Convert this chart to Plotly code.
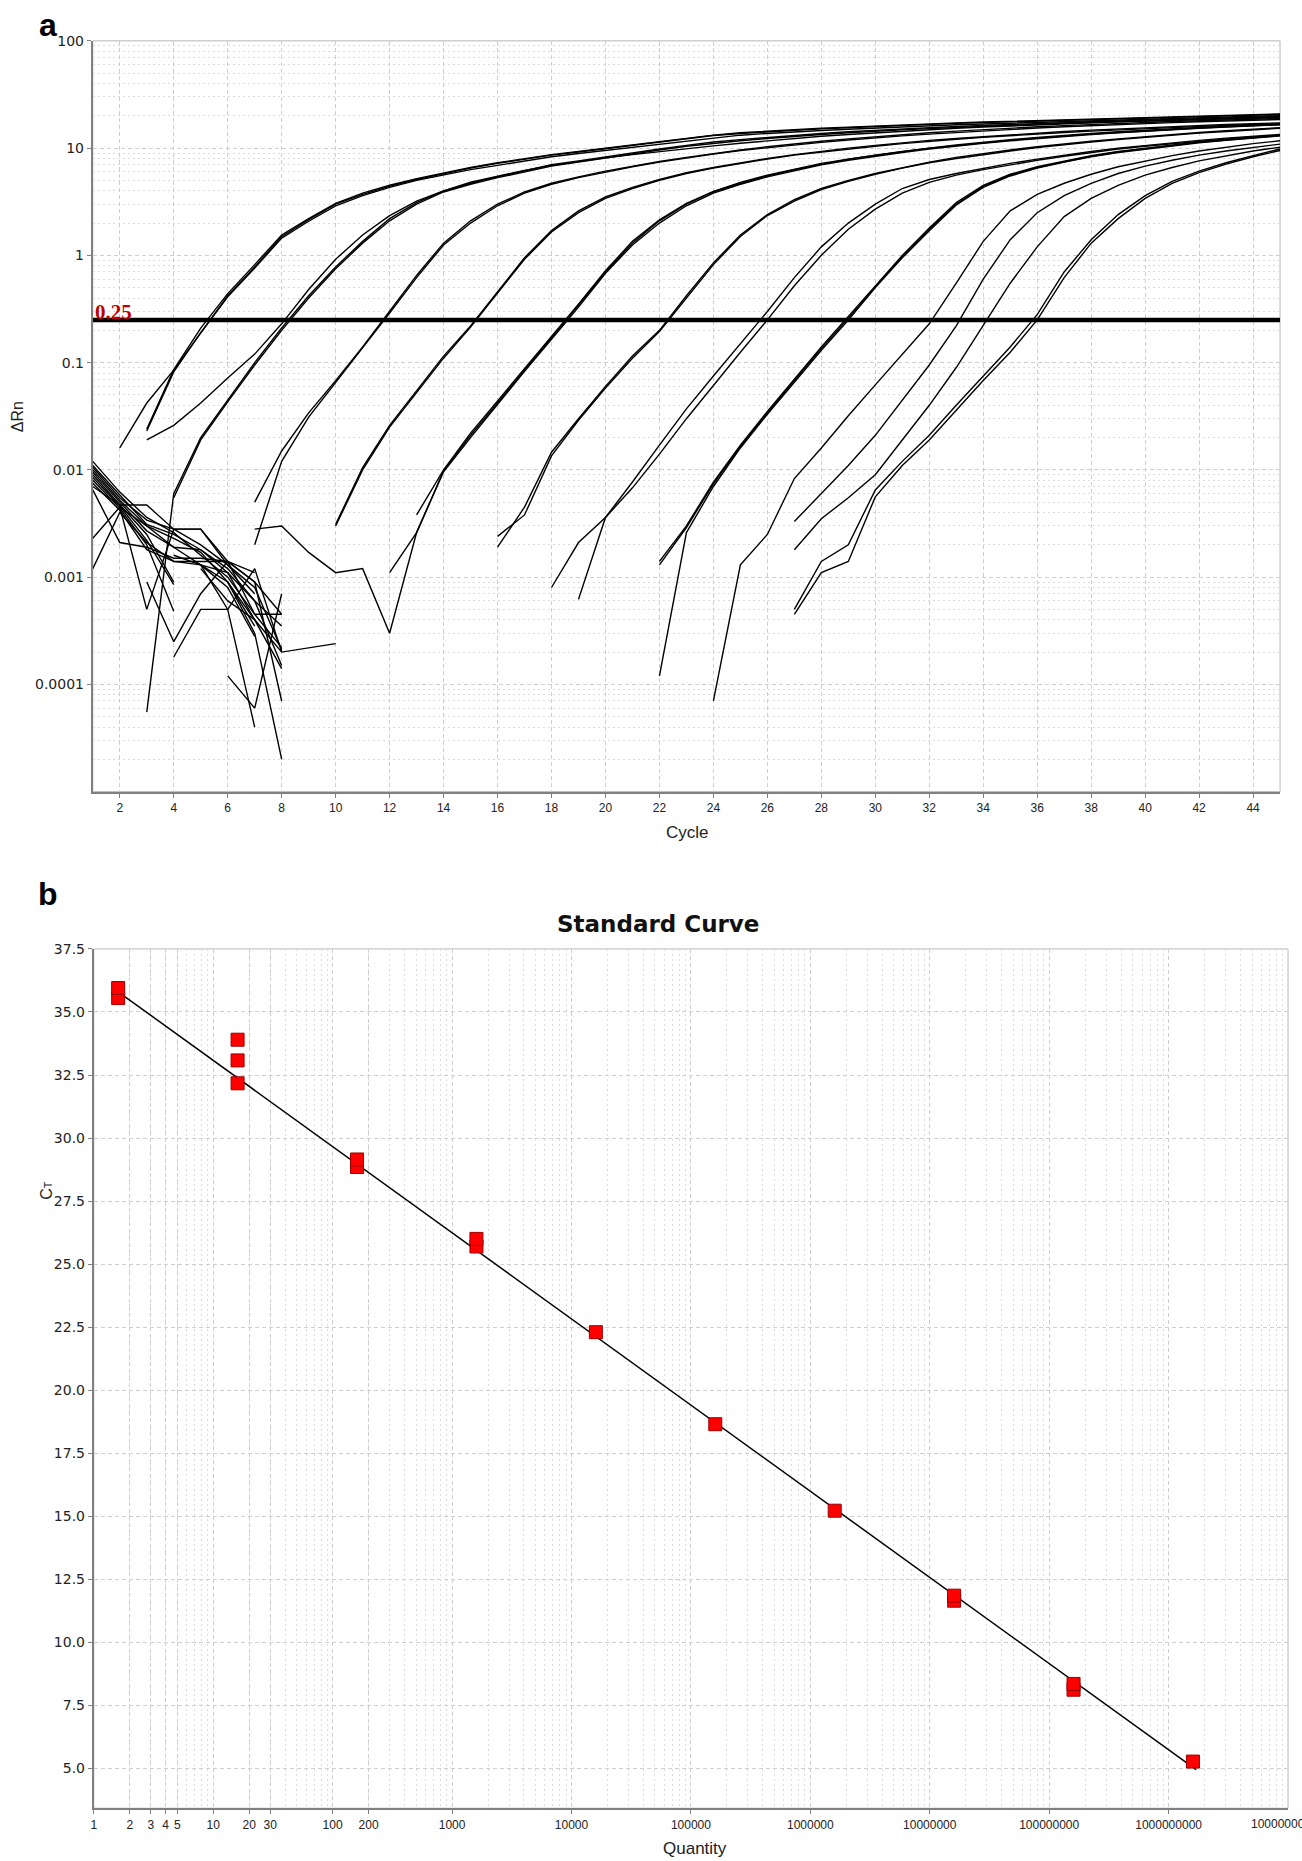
import plotly.graph_objects as go

W, H = 1302, 1861

# ---------------- Panel a : amplification plot ----------------
cycle_tickvals = list(range(2, 45, 2))
drn_tickvals = [0.0001, 0.001, 0.01, 0.1, 1, 10, 100]
drn_ticktext = ["0.0001", "0.001", "0.01", "0.1", "1", "10", "100"]
threshold = 0.25

# amplification curves: first cycle, then dRn for consecutive cycles
A1_start, A1 = 2, [0.016, 0.042, 0.085, 0.19, 0.42, 0.78, 1.5, 2.15, 3.0, 3.7, 4.4, 5.1, 5.8, 6.5, 7.2, 7.9, 8.6, 9.2, 9.9, 10.6, 11.4, 12.3, 13.1, 13.7, 14.2, 14.7, 15.1, 15.5, 15.9, 16.3, 16.7, 17.0, 17.3, 17.6, 17.9, 18.2, 18.5, 18.8, 19.1, 19.4, 19.7, 20.0, 20.3, 20.6]
A2_start, A2 = 3, [0.024, 0.086, 0.21, 0.44, 0.82, 1.55, 2.2, 3.05, 3.8, 4.5, 5.2, 5.9, 6.6, 7.3, 8.0, 8.7, 9.3, 10.0, 10.7, 11.5, 12.4, 13.2, 13.9, 14.4, 14.9, 15.3, 15.7, 16.1, 16.5, 16.9, 17.2, 17.5, 17.8, 18.1, 18.4, 18.7, 19.0, 19.3, 19.6, 19.9, 20.2, 20.5, 20.8]
A3_start, A3 = 3, [0.023, 0.082, 0.19, 0.41, 0.76, 1.45, 2.08, 2.9, 3.6, 4.3, 5.0, 5.6, 6.3, 6.9, 7.6, 8.3, 8.9, 9.5, 10.2, 10.9, 11.7, 12.5, 13.2, 13.7, 14.2, 14.6, 15.0, 15.4, 15.8, 16.2, 16.5, 16.8, 17.1, 17.4, 17.7, 18.0, 18.3, 18.6, 18.9, 19.2, 19.5, 19.8, 20.1]
A4_start, A4 = 3, [0.019, 0.026, 0.042, 0.072, 0.12, 0.23, 0.48, 0.92, 1.55, 2.35, 3.2, 4.0, 4.8, 5.5, 6.2, 6.9, 7.5, 8.1, 8.7, 9.3, 9.9, 10.5, 11.1, 11.7, 12.3, 12.9, 13.4, 13.9, 14.4, 14.9, 15.3, 15.7, 16.1, 16.5, 16.9, 17.3, 17.6, 17.9, 18.2, 18.5, 18.8, 19.1, 19.4]
B1_start, B1 = 3, [0.000055, 0.006, 0.02, 0.045, 0.1, 0.21, 0.42, 0.78, 1.35, 2.2, 3.1, 4.0, 4.7, 5.4, 6.2, 7.0, 7.6, 8.3, 9.0, 9.8, 10.6, 11.4, 12.0, 12.6, 13.2, 13.7, 14.2, 14.7, 15.1, 15.5, 15.9, 16.3, 16.7, 17.0, 17.3, 17.6, 17.9, 18.2, 18.5, 18.8, 19.1, 19.4, 19.7]
B2_start, B2 = 4, [0.0055, 0.019, 0.043, 0.095, 0.2, 0.4, 0.75, 1.3, 2.1, 3.0, 3.9, 4.6, 5.3, 6.0, 6.8, 7.4, 8.1, 8.8, 9.6, 10.4, 11.1, 11.7, 12.3, 12.9, 13.4, 13.9, 14.4, 14.8, 15.2, 15.6, 16.0, 16.4, 16.7, 17.0, 17.3, 17.6, 17.9, 18.2, 18.5, 18.8, 19.1, 19.4]
C1_start, C1 = 7, [0.005, 0.015, 0.034, 0.068, 0.14, 0.3, 0.65, 1.3, 2.1, 3.0, 3.9, 4.7, 5.4, 6.1, 6.8, 7.5, 8.2, 8.9, 9.6, 10.3, 11.0, 11.6, 12.2, 12.8, 13.4, 13.9, 14.4, 14.9, 15.4, 15.8, 16.2, 16.6, 17.0, 17.4, 17.7, 18.0, 18.3, 18.6, 18.9]
C2_start, C2 = 7, [0.002, 0.012, 0.031, 0.065, 0.135, 0.29, 0.62, 1.25, 2.0, 2.9, 3.8, 4.6, 5.3, 6.0, 6.7, 7.4, 8.1, 8.8, 9.5, 10.1, 10.7, 11.3, 11.9, 12.5, 13.0, 13.5, 14.0, 14.5, 15.0, 15.4, 15.8, 16.2, 16.6, 17.0, 17.3, 17.6, 17.9, 18.2, 18.5]
D1_start, D1 = 10, [0.0031, 0.0105, 0.026, 0.055, 0.115, 0.22, 0.46, 0.95, 1.7, 2.6, 3.5, 4.3, 5.1, 5.9, 6.6, 7.3, 8.0, 8.7, 9.4, 10.0, 10.6, 11.2, 11.8, 12.3, 12.8, 13.3, 13.8, 14.3, 14.7, 15.1, 15.5, 15.9, 16.3, 16.6, 16.9, 17.2]
D2_start, D2 = 10, [0.003, 0.01, 0.025, 0.053, 0.11, 0.215, 0.45, 0.92, 1.65, 2.5, 3.4, 4.2, 5.0, 5.8, 6.5, 7.2, 7.9, 8.6, 9.2, 9.8, 10.4, 11.0, 11.6, 12.1, 12.6, 13.1, 13.6, 14.0, 14.4, 14.8, 15.2, 15.6, 16.0, 16.3, 16.6, 16.9]
E1_start, E1 = 12, [0.0011, 0.0026, 0.0098, 0.021, 0.042, 0.085, 0.17, 0.34, 0.7, 1.3, 2.1, 3.0, 3.9, 4.7, 5.5, 6.3, 7.1, 7.9, 8.6, 9.3, 10.0, 10.7, 11.4, 12.0, 12.6, 13.2, 13.7, 14.2, 14.7, 15.2, 15.6, 16.0, 16.4, 16.8]
E2_start, E2 = 7, [0.0028, 0.003, 0.0017, 0.0011, 0.0012, 0.0003, 0.0026, 0.0096, 0.02, 0.041, 0.083, 0.165, 0.33, 0.68, 1.25, 2.0, 2.9, 3.8, 4.6, 5.4, 6.2, 7.0, 7.7, 8.4, 9.1, 9.8, 10.5, 11.1, 11.7, 12.3, 12.9, 13.4, 13.9, 14.4, 14.9, 15.3, 15.7, 16.1, 16.5]
E3_start, E3 = 13, [0.0038, 0.01, 0.022, 0.044, 0.088, 0.175, 0.35, 0.72, 1.35, 2.15, 3.05, 3.95, 4.8, 5.6, 6.4, 7.2, 7.9, 8.6, 9.3, 10.0, 10.6, 11.2, 11.8, 12.4, 13.0, 13.5, 14.0, 14.5, 15.0, 15.4, 15.8, 16.2, 16.6]
F1_start, F1 = 16, [0.0019, 0.0045, 0.0146, 0.03, 0.06, 0.115, 0.2, 0.42, 0.85, 1.55, 2.4, 3.3, 4.2, 5.0, 5.8, 6.6, 7.4, 8.2, 8.9, 9.6, 10.3, 11.0, 11.6, 12.2, 12.8, 13.4, 14.0, 14.5, 15.0, 15.5]
F2_start, F2 = 16, [0.0024, 0.0038, 0.0135, 0.029, 0.058, 0.11, 0.195, 0.4, 0.82, 1.5, 2.35, 3.2, 4.1, 4.9, 5.7, 6.5, 7.3, 8.0, 8.7, 9.4, 10.1, 10.8, 11.4, 12.0, 12.6, 13.2, 13.8, 14.3, 14.8, 15.3]
G1_start, G1 = 18, [0.0008, 0.0021, 0.0036, 0.0077, 0.017, 0.037, 0.075, 0.15, 0.3, 0.62, 1.2, 2.0, 3.0, 4.2, 5.1, 5.8, 6.5, 7.2, 7.9, 8.6, 9.3, 10.0, 10.6, 11.2, 11.8, 12.4, 12.9, 13.4]
G2_start, G2 = 19, [0.00062, 0.0036, 0.0068, 0.014, 0.03, 0.062, 0.125, 0.25, 0.52, 1.0, 1.75, 2.7, 3.8, 4.8, 5.6, 6.3, 7.0, 7.7, 8.4, 9.1, 9.8, 10.4, 11.0, 11.6, 12.2, 12.7, 13.2]
H1_start, H1 = 22, [0.0014, 0.003, 0.0077, 0.017, 0.035, 0.07, 0.14, 0.27, 0.52, 1.0, 1.8, 3.1, 4.5, 5.7, 6.7, 7.6, 8.5, 9.3, 10.0, 10.7, 11.4, 12.0, 12.6, 13.2]
H2_start, H2 = 22, [0.00012, 0.0026, 0.007, 0.016, 0.033, 0.066, 0.13, 0.25, 0.5, 0.95, 1.7, 2.95, 4.3, 5.5, 6.5, 7.4, 8.3, 9.1, 9.8, 10.5, 11.2, 11.8, 12.4, 13.0]
H3_start, H3 = 22, [0.0013, 0.0029, 0.0074, 0.0165, 0.034, 0.068, 0.135, 0.26, 0.51, 0.98, 1.75, 3.0, 4.4, 5.6, 6.6, 7.5, 8.4, 9.2, 9.9, 10.6, 11.3, 11.9, 12.5, 13.1]
I1_start, I1 = 24, [0.00007, 0.0013, 0.0025, 0.0083, 0.016, 0.032, 0.062, 0.12, 0.23, 0.55, 1.35, 2.6, 3.7, 4.7, 5.7, 6.7, 7.6, 8.5, 9.4, 10.2, 11.0, 11.7]
I2_start, I2 = 27, [0.0033, 0.006, 0.011, 0.021, 0.045, 0.095, 0.22, 0.6, 1.4, 2.5, 3.6, 4.7, 5.8, 6.8, 7.7, 8.6, 9.4, 10.2, 10.9]
I3_start, I3 = 27, [0.0018, 0.0035, 0.0055, 0.009, 0.019, 0.04, 0.09, 0.22, 0.55, 1.2, 2.3, 3.4, 4.5, 5.6, 6.6, 7.6, 8.5, 9.4, 10.2]
J1_start, J1 = 27, [0.0005, 0.0014, 0.002, 0.0065, 0.012, 0.021, 0.04, 0.075, 0.14, 0.28, 0.7, 1.4, 2.4, 3.6, 4.9, 6.1, 7.3, 8.5, 9.8]
J2_start, J2 = 27, [0.00045, 0.0011, 0.0014, 0.0056, 0.011, 0.019, 0.036, 0.068, 0.125, 0.25, 0.62, 1.3, 2.2, 3.4, 4.7, 5.9, 7.1, 8.3, 9.5]

# early-cycle baseline noise segments
N01_start, N01 = 1, [0.012, 0.0062, 0.0036, 0.0026, 0.0016, 0.001, 0.00045, 0.00022]
N02_start, N02 = 1, [0.011, 0.0058, 0.0031, 0.0025, 0.0018, 0.0012, 0.0006, 0.00015]
N03_start, N03 = 1, [0.0105, 0.0055, 0.0034, 0.0028, 0.002, 0.0013, 0.0007]
N04_start, N04 = 1, [0.01, 0.0052, 0.003, 0.0023, 0.0017, 0.0009, 0.00035]
N05_start, N05 = 1, [0.0095, 0.005, 0.0027, 0.0019, 0.0013, 0.0008, 0.00028]
N06_start, N06 = 1, [0.009, 0.0048, 0.0025, 0.0009]
N07_start, N07 = 1, [0.0085, 0.0046, 0.0022, 0.00085]
N08_start, N08 = 1, [0.008, 0.0044, 0.002, 0.00048]
N09_start, N09 = 1, [0.0075, 0.0042, 0.0018, 0.0014, 0.0013, 0.0011, 0.0006, 0.00035]
N10_start, N10 = 1, [0.007, 0.0047, 0.0047, 0.0028, 0.0028, 0.0013, 0.0008, 0.00021]
N11_start, N11 = 1, [0.0023, 0.0045, 0.003, 0.0019, 0.0018, 0.0011, 0.0004]
N12_start, N12 = 1, [0.0012, 0.004, 0.0021, 0.0014, 0.0014, 0.0014, 0.0009, 0.00045]
N13_start, N13 = 1, [0.0065, 0.0021, 0.0019, 0.0015, 0.0015, 0.0014, 0.0011]
N14_start, N14 = 2, [0.0045, 0.0005, 0.0028, 0.0028, 0.0014, 0.00045, 0.00045]
N15_start, N15 = 3, [0.0009, 0.00025, 0.0007, 0.0014, 0.0009, 0.00007]
N16_start, N16 = 4, [0.00018, 0.0005, 0.0005, 0.0012, 0.0002, 0.00022, 0.00024]
N17_start, N17 = 5, [0.0013, 0.0005, 0.00004]
N18_start, N18 = 6, [0.0009, 0.0003, 0.00002]
N19_start, N19 = 6, [0.00012, 0.00006, 0.0007]
N20_start, N20 = 5, [0.0012, 0.0006, 0.0004, 0.00014]
N21_start, N21 = 4, [0.0016, 0.0013, 0.0009, 0.0004, 0.0002]

amp_curves = [(A1_start, A1), (A2_start, A2), (A3_start, A3), (A4_start, A4),
              (B1_start, B1), (B2_start, B2), (C1_start, C1), (C2_start, C2),
              (D1_start, D1), (D2_start, D2), (E1_start, E1), (E2_start, E2), (E3_start, E3),
              (F1_start, F1), (F2_start, F2), (G1_start, G1), (G2_start, G2),
              (H1_start, H1), (H2_start, H2), (H3_start, H3),
              (I1_start, I1), (I2_start, I2), (I3_start, I3), (J1_start, J1), (J2_start, J2)]
noise_curves = [(N01_start, N01), (N02_start, N02), (N03_start, N03), (N04_start, N04),
                (N05_start, N05), (N06_start, N06), (N07_start, N07), (N08_start, N08),
                (N09_start, N09), (N10_start, N10), (N11_start, N11), (N12_start, N12),
                (N13_start, N13), (N14_start, N14), (N15_start, N15), (N16_start, N16),
                (N17_start, N17), (N18_start, N18), (N19_start, N19), (N20_start, N20),
                (N21_start, N21)]
cycle_range = [1, 45]

# ---------------- Panel b : standard curve ----------------
std_quantity = [1.6, 1.6, 16, 16, 16, 160, 160, 1600, 1600, 16000, 160000, 1.6e6, 1.6e7, 1.6e7, 1.6e8, 1.6e8, 1.6e9]
std_ct = [35.55, 35.95, 32.17, 33.08, 33.9, 28.85, 29.15, 25.7, 26.0, 22.3, 18.65, 15.22, 11.65, 11.85, 8.12, 8.35, 5.27]
fit_quantity = [1.6, 1.7e9]
fit_ct = [35.8, 4.95]
qty_tickvals = [1, 2, 3, 4, 5, 10, 20, 30, 100, 200, 1e3, 1e4, 1e5, 1e6, 1e7, 1e8, 1e9]
qty_ticktext = ["1", "2", "3", "4", "5", "10", "20", "30", "100", "200", "1000", "10000",
                "100000", "1000000", "10000000", "100000000", "1000000000"]
qty_last_label = "10000000000"

fig = go.Figure()

for start, vals in noise_curves + amp_curves:
    fig.add_trace(go.Scatter(
        x=list(range(start, start + len(vals))), y=vals, mode="lines",
        line=dict(color="black", width=1.4), xaxis="x", yaxis="y",
        showlegend=False, hoverinfo="skip"))

fig.add_trace(go.Scatter(x=cycle_range, y=[threshold, threshold], mode="lines",
                         line=dict(color="black", width=4.5), xaxis="x", yaxis="y",
                         showlegend=False, hoverinfo="skip"))

fig.add_trace(go.Scatter(x=fit_quantity, y=fit_ct, mode="lines",
                         line=dict(color="black", width=1.5), xaxis="x2", yaxis="y2",
                         showlegend=False, hoverinfo="skip"))
fig.add_trace(go.Scatter(x=std_quantity, y=std_ct, mode="markers",
                         marker=dict(symbol="square", size=13, color="#ff0000",
                                     line=dict(color="#9a0000", width=1)),
                         xaxis="x2", yaxis="y2", showlegend=False, hoverinfo="skip"))

GRID = "#cfcfcf"
MINOR = "#dcdcdc"
AX = "#808080"
DASH = "4px,3px"
DOT = "2px,3px"
TICKFONT = dict(family="DejaVu Sans, Verdana, sans-serif", size=14, color="#222")
XTICKFONT = dict(family="Liberation Sans Narrow, Arial Narrow, Liberation Sans, Arial", size=12, color="#222")

decade_minor_a = [k * 10.0 ** e for e in range(-5, 2) for k in range(2, 10)]
decade_minor_b = [k * 10.0 ** e for e in range(0, 10) for k in range(2, 10)]

def px(x):
    return x / W

def py(y):
    return 1 - y / H

fig.update_layout(
    width=W, height=H, margin=dict(l=0, r=0, t=0, b=0),
    paper_bgcolor="white", plot_bgcolor="white", hovermode=False,
    xaxis=dict(domain=[px(90), px(1280)], range=cycle_range, anchor="y",
               tickmode="array", tickvals=cycle_tickvals, tickfont=XTICKFONT,
               showgrid=True, gridcolor=GRID, griddash=DASH, gridwidth=1,
               showline=True, linecolor=AX, linewidth=2, ticks="outside",
               ticklen=4, tickcolor=AX, zeroline=False),
    yaxis=dict(domain=[py(787), py(33)], type="log", range=[-5, 2], anchor="x",
               tickmode="array", tickvals=drn_tickvals, ticktext=drn_ticktext,
               tickfont=TICKFONT, showgrid=True, gridcolor=GRID, griddash=DASH,
               showline=True, linecolor=AX, linewidth=2, ticks="outside",
               ticklen=4, tickcolor=AX, zeroline=False,
               minor=dict(tickmode="array", tickvals=decade_minor_a, showgrid=True,
                          gridcolor=MINOR, griddash=DOT, ticks="")),
    xaxis2=dict(domain=[px(91), px(1288)], type="log", range=[0, 10], anchor="y2",
                tickmode="array", tickvals=qty_tickvals, ticktext=qty_ticktext,
                tickfont=XTICKFONT, showgrid=True, gridcolor=GRID, griddash=DASH,
                showline=True, linecolor=AX, linewidth=2, ticks="outside",
                ticklen=4, tickcolor=AX, zeroline=False,
                minor=dict(tickmode="array", tickvals=decade_minor_b, showgrid=True,
                           gridcolor=MINOR, griddash=DOT, ticks="")),
    yaxis2=dict(domain=[py(1808), py(945)], range=[3.42, 37.5], anchor="x2",
                tick0=0, dtick=2.5, tickformat=".1f", tickfont=TICKFONT,
                showgrid=True, gridcolor=GRID, griddash=DASH,
                showline=True, linecolor=AX, linewidth=2, ticks="outside",
                ticklen=4, tickcolor=AX, zeroline=False),
    shapes=[
        dict(type="rect", xref="x domain", yref="y domain", x0=0, x1=1, y0=0, y1=1,
             line=dict(color="#b8b8b8", width=1), layer="below"),
        dict(type="rect", xref="x2 domain", yref="y2 domain", x0=0, x1=1, y0=0, y1=1,
             line=dict(color="#b8b8b8", width=1), layer="below"),
    ],
)

SANS = "Liberation Sans, Arial, sans-serif"
annotations = [
    dict(text="<b>a</b>", x=px(45), y=py(17), font=dict(family=SANS, size=32, color="black")),
    dict(text="ΔRn", x=px(14), y=py(410), textangle=-90, font=dict(family=SANS, size=16, color="#222")),
    dict(text="Cycle", x=px(686), y=py(828), font=dict(family=SANS, size=17, color="#222")),
    dict(text="<b>b</b>", x=px(45), y=py(890), font=dict(family=SANS, size=32, color="black")),
    dict(text="<b>Standard Curve</b>", x=px(657), y=py(920),
         font=dict(family="DejaVu Sans, Verdana, sans-serif", size=23, color="#111")),
    dict(text='C<span style="font-size:11px">T</span>', x=px(44), y=py(1187), textangle=-90,
         font=dict(family=SANS, size=16, color="#222")),
    dict(text="Quantity", x=px(694), y=py(1848), font=dict(family=SANS, size=17, color="#222")),
]
for a in annotations:
    a.update(xref="paper", yref="paper", showarrow=False, xanchor="center", yanchor="middle")
annotations.append(dict(text="<b>0.25</b>", xref="x", yref="y", x=1, y=-0.602,
                        xanchor="left", yanchor="bottom", yshift=-6, showarrow=False,
                        font=dict(family="Liberation Serif, Times New Roman, serif", size=21,
                                  color="#c00000")))
# last tick label of the quantity axis (runs past the page edge, as in the original)
annotations.append(dict(text=qty_last_label, xref="x2", yref="y2 domain", x=10, y=0,
                        xanchor="center", yanchor="top", yshift=-7, showarrow=False,
                        font=XTICKFONT))
fig.update_layout(annotations=annotations)

fig.write_html("out.html", config={"displayModeBar": False},
               post_script="document.body.style.margin='0';")
